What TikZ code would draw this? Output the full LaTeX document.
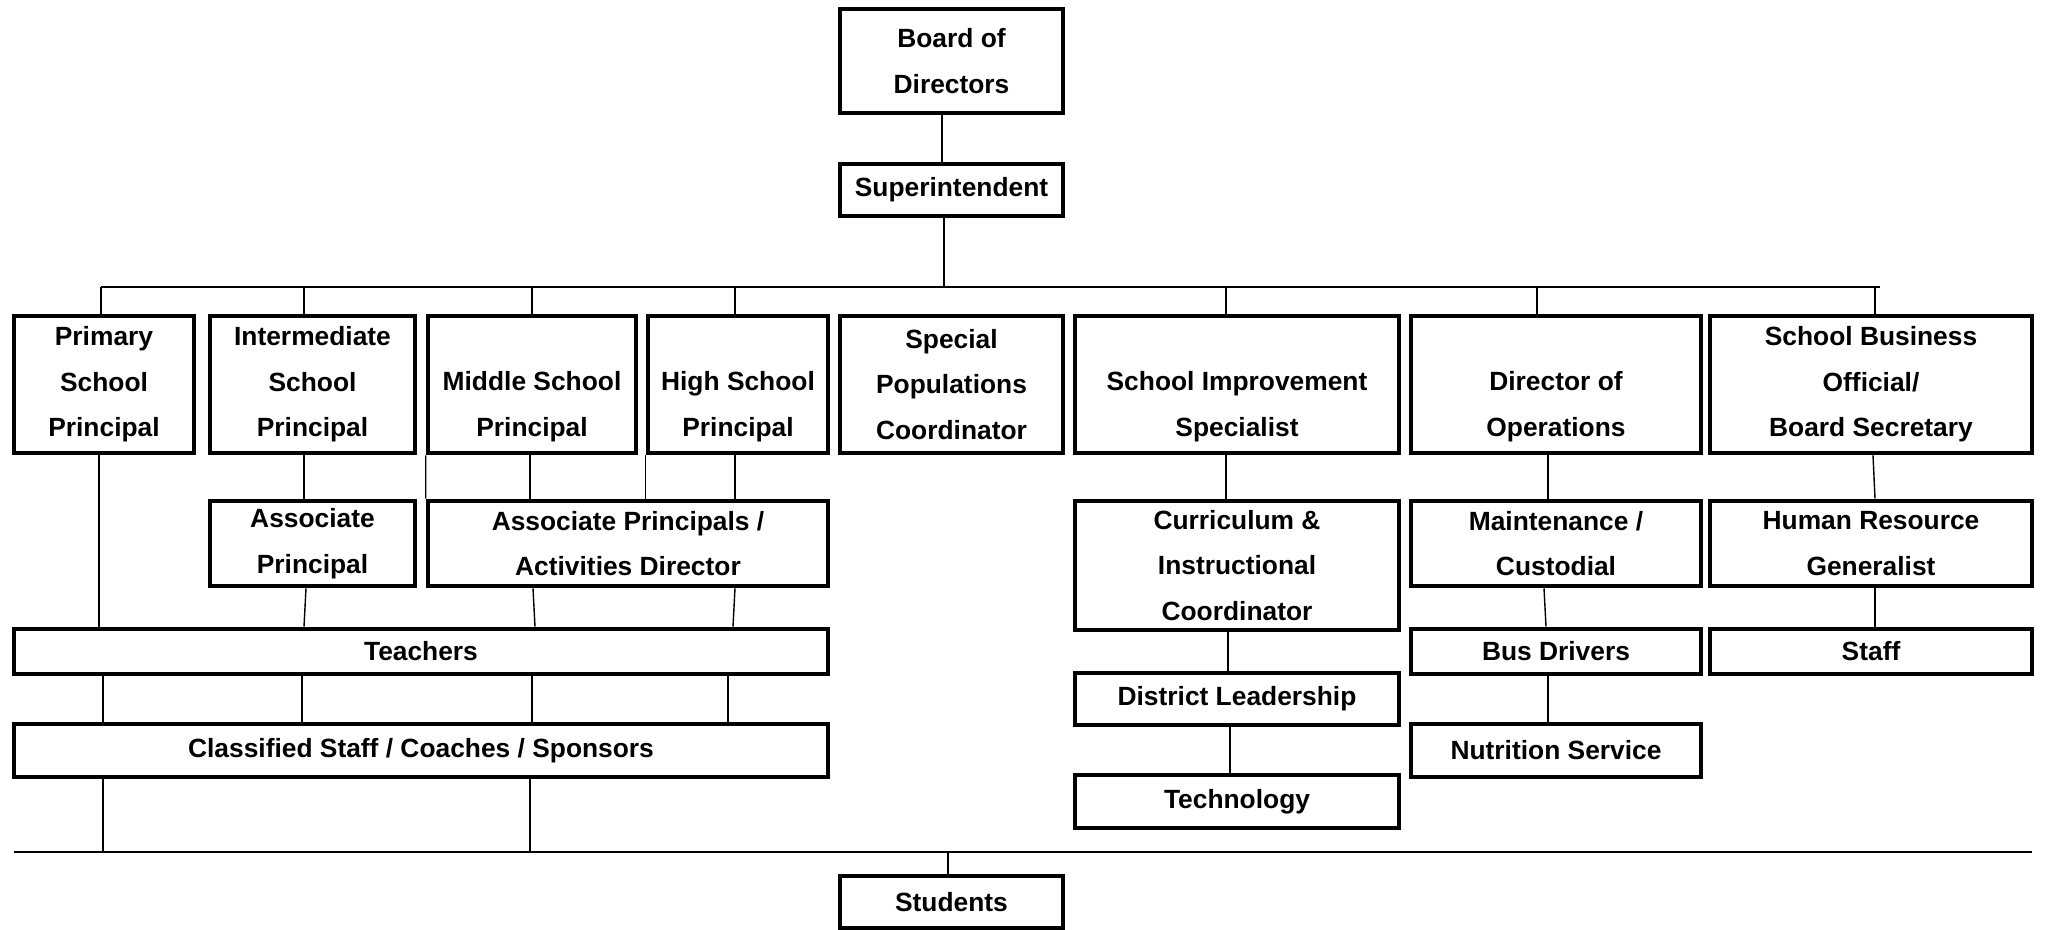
\documentclass[tikz,border=0pt]{standalone}
\usepackage{fontspec}
\setmainfont{Liberation Sans}

\begin{document}
\begin{tikzpicture}[x=0.1mm,y=-0.1mm,
  orgbox/.style={draw, line width=1.3pt, align=center, inner sep=0pt,
    font=\fontsize{7.5}{13}\selectfont\bfseries},
  link/.style={line width=0.4pt},
  bar/.style={line width=0.7pt}]

\useasboundingbox (0,0) rectangle (2045,930);

\node[orgbox, minimum width=22.3mm, minimum height=10.4mm] (board) at (951.5,61) {Board of\\Directors};
\node[orgbox, minimum width=22.3mm, minimum height=5.2mm] (sup) at (951.5,190) {Superintendent};

\node[orgbox, minimum width=18mm, minimum height=13.7mm] (prim) at (104,384.5) {Primary\\School\\Principal};
\node[orgbox, minimum width=20.5mm, minimum height=13.7mm] (inter) at (312.5,384.5) {Intermediate\\School\\Principal};
\node[orgbox, minimum width=20.8mm, minimum height=13.7mm] (mid) at (532,384.5) {\vphantom{Ag}\\Middle School\\Principal};
\node[orgbox, minimum width=18mm, minimum height=13.7mm] (high) at (738,384.5) {\vphantom{Ag}\\High School\\Principal};
\node[orgbox, minimum width=22.3mm, minimum height=13.7mm] (spec) at (951.5,384.5) {Special\\Populations\\Coordinator};
\node[orgbox, minimum width=32.4mm, minimum height=13.7mm] (impr) at (1237,384.5) {\vphantom{Ag}\\School Improvement\\Specialist};
\node[orgbox, minimum width=29mm, minimum height=13.7mm] (ops) at (1556,384.5) {\vphantom{Ag}\\Director of\\Operations};
\node[orgbox, minimum width=32.2mm, minimum height=13.7mm] (busoff) at (1871,384.5) {School Business\\Official/\\Board Secretary};

\node[orgbox, minimum width=20.5mm, minimum height=8.5mm] (assoc) at (312.5,543.5) {Associate\\Principal};
\node[orgbox, minimum width=40mm, minimum height=8.5mm] (actdir) at (628,543.5) {Associate Principals /\\Activities Director};
\node[orgbox, minimum width=32.4mm, minimum height=12.9mm] (curric) at (1237,565.5) {Curriculum \&\\Instructional\\Coordinator};
\node[orgbox, minimum width=29mm, minimum height=8.5mm] (maint) at (1556,543.5) {Maintenance /\\Custodial};
\node[orgbox, minimum width=32.2mm, minimum height=8.5mm] (hr) at (1871,543.5) {Human Resource\\Generalist};

\node[orgbox, minimum width=81.4mm, minimum height=4.5mm] (teach) at (421,651.5) {Teachers};
\node[orgbox, minimum width=29mm, minimum height=4.5mm] (busdr) at (1556,651.5) {Bus Drivers};
\node[orgbox, minimum width=32.2mm, minimum height=4.5mm] (staff) at (1871,651.5) {Staff};
\node[orgbox, minimum width=32.4mm, minimum height=5.2mm] (distr) at (1237,699) {District Leadership};
\node[orgbox, minimum width=81.4mm, minimum height=5.3mm] (class) at (421,750.5) {Classified Staff / Coaches / Sponsors};
\node[orgbox, minimum width=29mm, minimum height=5.3mm] (nutr) at (1556,750.5) {Nutrition Service};
\node[orgbox, minimum width=32.4mm, minimum height=5.3mm] (tech) at (1237,801.5) {Technology};
\node[orgbox, minimum width=22.3mm, minimum height=5.2mm] (stud) at (951.5,902) {Students};

\coordinate (barL) at (101,287);
\coordinate (barR) at (1880,287);
\coordinate (floorL) at (14,852);
\coordinate (floorR) at (2032,852);

\draw[link] (board.south -| 942,0) -- (sup.north -| 942,0);
\draw[link] (sup.south -| 944,0) -- (barL -| 944,0);
\draw[bar] (barL) -- (barR);

\draw[link] (barL) -- (prim.north -| 101,0);
\draw[link] (barL -| 304,0) -- (inter.north -| 304,0);
\draw[link] (barL -| 532,0) -- (mid.north -| 532,0);
\draw[link] (barL -| 735,0) -- (high.north -| 735,0);
\draw[link] (barL -| 1226,0) -- (impr.north -| 1226,0);
\draw[link] (barL -| 1537,0) -- (ops.north -| 1537,0);
\draw[link] (barL -| 1875,0) -- (busoff.north -| 1875,0);

\draw[link] (prim.south -| 99,0) -- (teach.north -| 99,0);
\draw[link] (inter.south -| 304,0) -- (assoc.north -| 304,0);
\draw[link] (assoc.south -| 306,0) -- (teach.north -| 304,0);
\draw[link] (mid.south west) -- (actdir.north west);
\draw[link] (mid.south -| 530,0) -- (actdir.north -| 530,0);
\draw[link] (high.south west) -- (actdir.north -| high.south west);
\draw[link] (high.south -| 735,0) -- (actdir.north -| 735,0);
\draw[link] (actdir.south -| 533,0) -- (teach.north -| 535,0);
\draw[link] (actdir.south -| 735,0) -- (teach.north -| 733,0);

\draw[link] (teach.south -| 103,0) -- (class.north -| 103,0);
\draw[link] (teach.south -| 302,0) -- (class.north -| 302,0);
\draw[link] (teach.south -| 532,0) -- (class.north -| 532,0);
\draw[link] (teach.south -| 728,0) -- (class.north -| 728,0);
\draw[link] (class.south -| 103,0) -- (floorL -| 103,0);
\draw[link] (class.south -| 530,0) -- (floorL -| 530,0);

\draw[bar] (floorL) -- (floorR);
\draw[link] (floorL -| 948,0) -- (stud.north -| 948,0);

\draw[link] (impr.south -| 1226,0) -- (curric.north -| 1226,0);
\draw[link] (curric.south -| 1228,0) -- (distr.north -| 1228,0);
\draw[link] (distr.south -| 1230,0) -- (tech.north -| 1230,0);

\draw[link] (ops.south -| 1548,0) -- (maint.north -| 1548,0);
\draw[link] (maint.south -| 1544,0) -- (busdr.north -| 1546,0);
\draw[link] (busdr.south -| 1548,0) -- (nutr.north -| 1548,0);

\draw[link] (busoff.south -| 1873,0) -- (hr.north -| 1875,0);
\draw[link] (hr.south -| 1875,0) -- (staff.north -| 1875,0);
\end{tikzpicture}
\end{document}
